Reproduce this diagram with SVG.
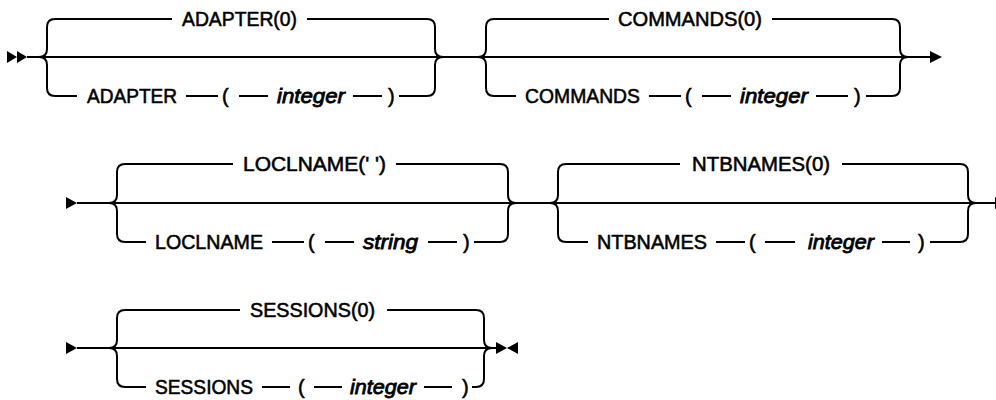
<svg xmlns="http://www.w3.org/2000/svg" width="996" height="400" viewBox="0 0 996 400">
<style>
.ln{stroke:#000;stroke-width:2;fill:none}
.ah{fill:#000;stroke:none}
.kw{font-family:"Liberation Sans",Arial,sans-serif;font-size:20px;fill:#000;stroke:#000;stroke-width:0.55}
.var{font-family:"Liberation Sans",Arial,sans-serif;font-size:20px;font-style:italic;fill:#000;stroke:#000;stroke-width:0.8}
</style>
<rect width="996" height="400" fill="#fff"/>
<g id="connectors">
  <!-- Row 1 -->
  <polygon class="ah" points="7,51 17,57 7,63"/>
  <polygon class="ah" points="17,51 27,57 17,63"/>
  <path class="ln" d="M27,57 L930,57"/>
  <polygon class="ah" points="930,51 942,57 930,63"/>
  <path class="ln" d="M55,19 Q47,19 47,27 L47,49 Q47,57 39,57 M55,96 Q47,96 47,88 L47,65 Q47,57 39,57"/>
  <path class="ln" d="M427,19 Q435,19 435,27 L435,49 Q435,57 443,57 M427,96 Q435,96 435,88 L435,65 Q435,57 443,57"/>
  <path class="ln" d="M55,19 L172,19 M307,19 L427,19"/>
  <path class="ln" d="M55,96 L77,96 M186,96 L218,96 M239,96 L268,96 M353,96 L382,96 M399,96 L427,96"/>
  <path class="ln" d="M494,19 Q486,19 486,27 L486,49 Q486,57 478,57 M494,96 Q486,96 486,88 L486,65 Q486,57 478,57"/>
  <path class="ln" d="M892,19 Q900,19 900,27 L900,49 Q900,57 908,57 M892,96 Q900,96 900,88 L900,65 Q900,57 908,57"/>
  <path class="ln" d="M494,19 L609,19 M772,19 L892,19"/>
  <path class="ln" d="M494,96 L516,96 M649,96 L681,96 M702,96 L731,96 M816,96 L848,96 M866,96 L892,96"/>

  <!-- Row 2 -->
  <polygon class="ah" points="66,197 77,203 66,209"/>
  <path class="ln" d="M77,203 L996,203"/>
  <polygon class="ah" points="995,197 1007,203 995,209"/>
  <path class="ln" d="M125,164 Q117,164 117,172 L117,195 Q117,203 109,203 M125,242 Q117,242 117,234 L117,211 Q117,203 109,203"/>
  <path class="ln" d="M500,164 Q508,164 508,172 L508,195 Q508,203 516,203 M500,242 Q508,242 508,234 L508,211 Q508,203 516,203"/>
  <path class="ln" d="M125,164 L233,164 M396,164 L500,164"/>
  <path class="ln" d="M125,242 L146,242 M272,242 L304,242 M325,242 L354,242 M428,242 L457,242 M474,242 L500,242"/>
  <path class="ln" d="M566,164 Q558,164 558,172 L558,195 Q558,203 550,203 M566,242 Q558,242 558,234 L558,211 Q558,203 550,203"/>
  <path class="ln" d="M960,164 Q968,164 968,172 L968,195 Q968,203 976,203 M960,242 Q968,242 968,234 L968,211 Q968,203 976,203"/>
  <path class="ln" d="M566,164 L680,164 M842,164 L960,164"/>
  <path class="ln" d="M566,242 L588,242 M716,242 L745,242 M765,242 L795,242 M882,242 L910,242 M930,242 L960,242"/>

  <!-- Row 3 -->
  <polygon class="ah" points="66,342 77,348 66,354"/>
  <path class="ln" d="M77,348 L497,348"/>
  <polygon class="ah" points="496,342 507,348 496,354"/>
  <polygon class="ah" points="518,342 507,348 518,354"/>
  <path class="ln" d="M125,310 Q117,310 117,318 L117,340 Q117,348 109,348 M125,387 Q117,387 117,379 L117,356 Q117,348 109,348"/>
  <path class="ln" d="M476,310 Q484,310 484,318 L484,340 Q484,348 492,348 M476,387 Q484,387 484,379 L484,356 Q484,348 492,348"/>
  <path class="ln" d="M125,310 L240,310 M387,310 L476,310"/>
  <path class="ln" d="M125,387 L146,387 M262,387 L290,387 M314,387 L342,387 M424,387 L452,387 M472,387 L476,387"/>
</g>

<g id="adapter-default"><text class="kw" x="182" y="26" textLength="115" lengthAdjust="spacingAndGlyphs">ADAPTER(0)</text></g>
<g id="adapter-option">
  <text class="kw" x="87" y="103" textLength="90" lengthAdjust="spacingAndGlyphs">ADAPTER</text>
  <text class="kw" x="222" y="103">(</text>
  <text class="var" x="277" y="103" textLength="68" lengthAdjust="spacingAndGlyphs">integer</text>
  <text class="kw" x="388" y="103">)</text>
</g>
<g id="commands-default"><text class="kw" x="618" y="26" textLength="144" lengthAdjust="spacingAndGlyphs">COMMANDS(0)</text></g>
<g id="commands-option">
  <text class="kw" x="525" y="103" textLength="115" lengthAdjust="spacingAndGlyphs">COMMANDS</text>
  <text class="kw" x="685" y="103">(</text>
  <text class="var" x="740" y="103" textLength="68" lengthAdjust="spacingAndGlyphs">integer</text>
  <text class="kw" x="854" y="103">)</text>
</g>
<g id="loclname-default"><text class="kw" x="243" y="171" textLength="143" lengthAdjust="spacingAndGlyphs">LOCLNAME(' ')</text></g>
<g id="loclname-option">
  <text class="kw" x="155" y="249" textLength="108" lengthAdjust="spacingAndGlyphs">LOCLNAME</text>
  <text class="kw" x="308" y="249">(</text>
  <text class="var" x="363" y="249" textLength="55" lengthAdjust="spacingAndGlyphs">string</text>
  <text class="kw" x="463" y="249">)</text>
</g>
<g id="ntbnames-default"><text class="kw" x="692" y="171" textLength="138" lengthAdjust="spacingAndGlyphs">NTBNAMES(0)</text></g>
<g id="ntbnames-option">
  <text class="kw" x="597" y="249" textLength="110" lengthAdjust="spacingAndGlyphs">NTBNAMES</text>
  <text class="kw" x="749" y="249">(</text>
  <text class="var" x="808" y="249" textLength="66" lengthAdjust="spacingAndGlyphs">integer</text>
  <text class="kw" x="918" y="249">)</text>
</g>
<g id="sessions-default"><text class="kw" x="250" y="317" textLength="125" lengthAdjust="spacingAndGlyphs">SESSIONS(0)</text></g>
<g id="sessions-option">
  <text class="kw" x="155" y="394" textLength="98" lengthAdjust="spacingAndGlyphs">SESSIONS</text>
  <text class="kw" x="298" y="394">(</text>
  <text class="var" x="350" y="394" textLength="66" lengthAdjust="spacingAndGlyphs">integer</text>
  <text class="kw" x="462" y="394">)</text>
</g>
</svg>
